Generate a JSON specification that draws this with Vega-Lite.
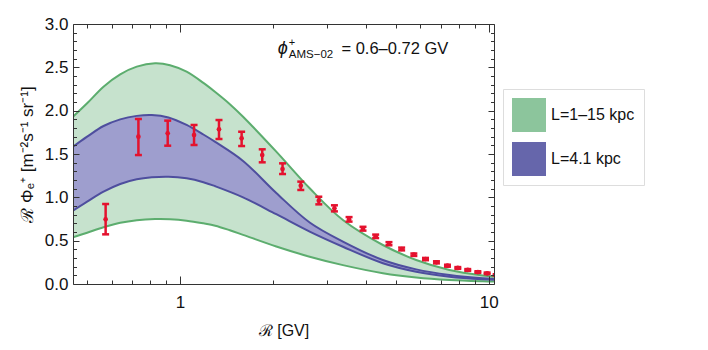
{
  "$schema": "https://vega.github.io/schema/vega-lite/v6.json",
  "width": 421,
  "height": 260,
  "autosize": {"type": "none"},
  "padding": {"left": 73, "top": 24, "right": 214, "bottom": 66},
  "config": {
    "view": {"stroke": null},
    "axis": {"grid": false},
    "font": "Liberation Sans"
  },
  "datasets": {
    "green": [
      {"x": 0.45, "lo": 0.538, "hi": 1.93},
      {"x": 0.5, "lo": 0.592, "hi": 2.085},
      {"x": 0.565, "lo": 0.654, "hi": 2.277},
      {"x": 0.64, "lo": 0.706, "hi": 2.419},
      {"x": 0.724, "lo": 0.736, "hi": 2.508},
      {"x": 0.83, "lo": 0.749, "hi": 2.546},
      {"x": 0.928, "lo": 0.747, "hi": 2.525},
      {"x": 1.05, "lo": 0.731, "hi": 2.45},
      {"x": 1.19, "lo": 0.7, "hi": 2.32},
      {"x": 1.3, "lo": 0.673, "hi": 2.215},
      {"x": 1.45, "lo": 0.62, "hi": 2.075},
      {"x": 1.6, "lo": 0.567, "hi": 1.93},
      {"x": 2.05, "lo": 0.433, "hi": 1.527},
      {"x": 2.63, "lo": 0.315, "hi": 1.104},
      {"x": 3.37, "lo": 0.218, "hi": 0.738},
      {"x": 4.54, "lo": 0.125, "hi": 0.45},
      {"x": 5.82, "lo": 0.075, "hi": 0.277},
      {"x": 7.46, "lo": 0.046, "hi": 0.162},
      {"x": 9.56, "lo": 0.031, "hi": 0.098},
      {"x": 10.4, "lo": 0.028, "hi": 0.085}
    ],
    "blue": [
      {"x": 0.45, "lo": 0.846, "hi": 1.584},
      {"x": 0.5, "lo": 0.95, "hi": 1.7},
      {"x": 0.565, "lo": 1.065, "hi": 1.823},
      {"x": 0.64, "lo": 1.154, "hi": 1.9},
      {"x": 0.724, "lo": 1.208, "hi": 1.94},
      {"x": 0.81, "lo": 1.231, "hi": 1.95},
      {"x": 0.917, "lo": 1.238, "hi": 1.922},
      {"x": 1.05, "lo": 1.219, "hi": 1.835},
      {"x": 1.19, "lo": 1.175, "hi": 1.725},
      {"x": 1.3, "lo": 1.128, "hi": 1.64},
      {"x": 1.6, "lo": 1.0, "hi": 1.42},
      {"x": 2.05, "lo": 0.805, "hi": 1.05},
      {"x": 2.63, "lo": 0.605, "hi": 0.71},
      {"x": 3.37, "lo": 0.43, "hi": 0.49},
      {"x": 4.54, "lo": 0.24, "hi": 0.277},
      {"x": 5.82, "lo": 0.142, "hi": 0.169},
      {"x": 7.46, "lo": 0.085, "hi": 0.104},
      {"x": 9.56, "lo": 0.054, "hi": 0.065},
      {"x": 10.4, "lo": 0.048, "hi": 0.058}
    ],
    "pts": [
      {"x": 0.574, "y": 0.746, "lo": 0.573, "hi": 0.923},
      {"x": 0.733, "y": 1.7, "lo": 1.488, "hi": 1.904},
      {"x": 0.912, "y": 1.738, "lo": 1.596, "hi": 1.885},
      {"x": 1.11, "y": 1.719, "lo": 1.604, "hi": 1.835},
      {"x": 1.337, "y": 1.785, "lo": 1.673, "hi": 1.892},
      {"x": 1.583, "y": 1.681, "lo": 1.592, "hi": 1.757},
      {"x": 1.846, "y": 1.488, "lo": 1.404, "hi": 1.554},
      {"x": 2.148, "y": 1.327, "lo": 1.269, "hi": 1.392},
      {"x": 2.461, "y": 1.135, "lo": 1.085, "hi": 1.181},
      {"x": 2.815, "y": 0.961, "lo": 0.919, "hi": 1.007},
      {"x": 3.163, "y": 0.873, "lo": 0.838, "hi": 0.908},
      {"x": 3.528, "y": 0.746, "lo": 0.72, "hi": 0.772},
      {"x": 3.914, "y": 0.638, "lo": 0.616, "hi": 0.66},
      {"x": 4.302, "y": 0.55, "lo": 0.53, "hi": 0.57},
      {"x": 4.751, "y": 0.465, "lo": 0.447, "hi": 0.483},
      {"x": 5.222, "y": 0.404, "lo": 0.388, "hi": 0.42},
      {"x": 5.72, "y": 0.338, "lo": 0.324, "hi": 0.352},
      {"x": 6.24, "y": 0.288, "lo": 0.275, "hi": 0.301},
      {"x": 6.77, "y": 0.25, "lo": 0.238, "hi": 0.262},
      {"x": 7.35, "y": 0.211, "lo": 0.2, "hi": 0.222},
      {"x": 7.94, "y": 0.185, "lo": 0.175, "hi": 0.195},
      {"x": 8.55, "y": 0.162, "lo": 0.152, "hi": 0.172},
      {"x": 9.22, "y": 0.138, "lo": 0.129, "hi": 0.147},
      {"x": 9.88, "y": 0.123, "lo": 0.114, "hi": 0.132},
      {"x": 10.57, "y": 0.104, "lo": 0.096, "hi": 0.112}
    ],
    "legend": [
      {"band": "L=1–15 kpc"},
      {"band": "L=4.1 kpc"}
    ]
  },
  "resolve": {
    "scale": {"x": "shared", "y": "shared"},
    "axis": {"x": "independent", "y": "independent"}
  },
  "layer": [
    {
      "data": {"name": "green"},
      "mark": {"type": "area", "fill": "#C6E2CD", "interpolate": "catmull-rom", "clip": true},
      "encoding": {
        "x": {"field": "x", "type": "quantitative", "scale": {"type": "log", "domain": [0.45, 10.4], "nice": false},
          "axis": {"orient": "bottom", "values": [1, 10], "ticks": false, "format": "~g", "labelFontSize": 17, "labelColor": "#111", "labelPadding": 10, "labelFlush": false,
            "title": "ℛ [GV]", "titleFontSize": 16, "titleFontWeight": "normal", "titleColor": "#111", "titlePadding": 12, "domain": true, "domainColor": "#333", "zindex": 1}},
        "y": {"field": "lo", "type": "quantitative", "scale": {"domain": [0, 3], "nice": false, "zero": false},
          "axis": {"orient": "left", "values": [0, 0.5, 1, 1.5, 2, 2.5, 3], "ticks": false, "format": ".1f", "labelFontSize": 17, "labelColor": "#111", "labelPadding": 5, "labelFlush": false,
            "title": "ℛ Φₑ⁺ [m⁻²s⁻¹ sr⁻¹]", "titleFontSize": 17, "titleFontWeight": "normal", "titleColor": "#111", "titlePadding": 8, "domain": true, "domainColor": "#333", "zindex": 1}},
        "y2": {"field": "hi"}
      }
    },
    {
      "data": {"name": "blue"},
      "mark": {"type": "area", "fill": "#9E9ECE", "interpolate": "catmull-rom", "clip": true},
      "encoding": {
        "x": {"field": "x", "type": "quantitative", "scale": {"type": "log", "domain": [0.45, 10.4], "nice": false},
          "axis": {"orient": "bottom", "values": [1, 10], "labels": false, "tickSize": -8, "tickColor": "#333", "domain": false, "title": null, "zindex": 1}},
        "y": {"field": "lo", "type": "quantitative", "scale": {"domain": [0, 3], "nice": false, "zero": false},
          "axis": {"orient": "left", "values": [0, 0.5, 1, 1.5, 2, 2.5, 3], "labels": false, "tickSize": -6, "tickColor": "#333", "domain": false, "title": null, "zindex": 1}},
        "y2": {"field": "hi"}
      }
    },
    {
      "data": {"name": "green"},
      "mark": {"type": "line", "stroke": "#5CAD6E", "strokeWidth": 2, "interpolate": "catmull-rom", "clip": true},
      "encoding": {
        "x": {"field": "x", "type": "quantitative", "scale": {"type": "log", "domain": [0.45, 10.4], "nice": false},
          "axis": {"orient": "bottom", "values": [0.5, 0.6, 0.7, 0.8, 0.9, 2, 3, 4, 5, 6, 7, 8, 9], "labels": false, "tickSize": -4, "tickColor": "#333", "domain": false, "title": null, "zindex": 1}},
        "y": {"field": "lo", "type": "quantitative", "scale": {"domain": [0, 3], "nice": false, "zero": false},
          "axis": {"orient": "left", "values": [0.1, 0.2, 0.3, 0.4, 0.6, 0.7, 0.8, 0.9, 1.1, 1.2, 1.3, 1.4, 1.6, 1.7, 1.8, 1.9, 2.1, 2.2, 2.3, 2.4, 2.6, 2.7, 2.8, 2.9], "labels": false, "tickSize": -3.5, "tickColor": "#333", "domain": false, "title": null, "zindex": 1}}
      }
    },
    {
      "data": {"name": "green"},
      "mark": {"type": "line", "stroke": "#5CAD6E", "strokeWidth": 2, "interpolate": "catmull-rom", "clip": true},
      "encoding": {
        "x": {"field": "x", "type": "quantitative", "scale": {"type": "log", "domain": [0.45, 10.4], "nice": false},
          "axis": {"orient": "top", "values": [1, 10], "labels": false, "tickSize": -8, "tickColor": "#333", "domain": true, "domainColor": "#333", "title": null, "zindex": 1}},
        "y": {"field": "hi", "type": "quantitative", "scale": {"domain": [0, 3], "nice": false, "zero": false},
          "axis": {"orient": "right", "values": [0, 0.5, 1, 1.5, 2, 2.5, 3], "labels": false, "tickSize": -6, "tickColor": "#333", "domain": true, "domainColor": "#333", "title": null, "zindex": 1}}
      }
    },
    {
      "data": {"name": "blue"},
      "mark": {"type": "line", "stroke": "#4E4E9E", "strokeWidth": 2, "interpolate": "catmull-rom", "clip": true},
      "encoding": {
        "x": {"field": "x", "type": "quantitative", "scale": {"type": "log", "domain": [0.45, 10.4], "nice": false},
          "axis": {"orient": "top", "values": [0.5, 0.6, 0.7, 0.8, 0.9, 2, 3, 4, 5, 6, 7, 8, 9], "labels": false, "tickSize": -4, "tickColor": "#333", "domain": false, "title": null, "zindex": 1}},
        "y": {"field": "lo", "type": "quantitative", "scale": {"domain": [0, 3], "nice": false, "zero": false},
          "axis": {"orient": "right", "values": [0.1, 0.2, 0.3, 0.4, 0.6, 0.7, 0.8, 0.9, 1.1, 1.2, 1.3, 1.4, 1.6, 1.7, 1.8, 1.9, 2.1, 2.2, 2.3, 2.4, 2.6, 2.7, 2.8, 2.9], "labels": false, "tickSize": -3.5, "tickColor": "#333", "domain": false, "title": null, "zindex": 1}}
      }
    },
    {
      "data": {"name": "blue"},
      "mark": {"type": "line", "stroke": "#4E4E9E", "strokeWidth": 2, "interpolate": "catmull-rom", "clip": true},
      "encoding": {
        "x": {"field": "x", "type": "quantitative", "scale": {"type": "log", "domain": [0.45, 10.4], "nice": false}, "axis": null},
        "y": {"field": "hi", "type": "quantitative", "scale": {"domain": [0, 3], "nice": false, "zero": false}, "axis": null}
      }
    },
    {
      "data": {"name": "pts"},
      "mark": {"type": "rule", "stroke": "#E4122E", "strokeWidth": 2.5, "clip": true},
      "encoding": {
        "x": {"field": "x", "type": "quantitative", "axis": null},
        "y": {"field": "lo", "type": "quantitative", "axis": null},
        "y2": {"field": "hi"}
      }
    },
    {
      "data": {"name": "pts"},
      "mark": {"type": "tick", "orient": "horizontal", "color": "#E4122E", "size": 7, "thickness": 2.5, "opacity": 1, "clip": true},
      "encoding": {
        "x": {"field": "x", "type": "quantitative", "axis": null},
        "y": {"field": "lo", "type": "quantitative", "axis": null}
      }
    },
    {
      "data": {"name": "pts"},
      "mark": {"type": "tick", "orient": "horizontal", "color": "#E4122E", "size": 7, "thickness": 2.5, "opacity": 1, "clip": true},
      "encoding": {
        "x": {"field": "x", "type": "quantitative", "axis": null},
        "y": {"field": "hi", "type": "quantitative", "axis": null}
      }
    },
    {
      "data": {"name": "pts"},
      "mark": {"type": "circle", "color": "#E4122E", "size": 22, "opacity": 1, "clip": true},
      "encoding": {
        "x": {"field": "x", "type": "quantitative", "axis": null},
        "y": {"field": "y", "type": "quantitative", "axis": null}
      }
    },
    {
      "data": {"values": [{}]},
      "mark": {"type": "text", "text": "ϕ", "fontSize": 18, "fontStyle": "italic", "align": "left", "baseline": "alphabetic", "color": "#111"},
      "encoding": {
        "x": {"datum": 2.074, "type": "quantitative", "axis": null},
        "y": {"datum": 2.654, "type": "quantitative", "axis": null}
      }
    },
    {
      "data": {"values": [{}]},
      "mark": {"type": "text", "text": "+", "fontSize": 11, "align": "left", "baseline": "alphabetic", "color": "#111"},
      "encoding": {
        "x": {"datum": 2.25, "type": "quantitative", "axis": null},
        "y": {"datum": 2.75, "type": "quantitative", "axis": null}
      }
    },
    {
      "data": {"values": [{}]},
      "mark": {"type": "text", "text": "AMS−02", "fontSize": 11.5, "align": "left", "baseline": "alphabetic", "color": "#111"},
      "encoding": {
        "x": {"datum": 2.25, "type": "quantitative", "axis": null},
        "y": {"datum": 2.604, "type": "quantitative", "axis": null}
      }
    },
    {
      "data": {"values": [{}]},
      "mark": {"type": "text", "text": "= 0.6–0.72 GV", "fontSize": 16.5, "align": "left", "baseline": "alphabetic", "color": "#111"},
      "encoding": {
        "x": {"datum": 3.333, "type": "quantitative", "axis": null},
        "y": {"datum": 2.654, "type": "quantitative", "axis": null}
      }
    },
    {
      "data": {"name": "legend"},
      "mark": {"type": "square", "filled": true, "opacity": 0},
      "encoding": {
        "fill": {"field": "band", "type": "nominal",
          "scale": {"domain": ["L=1–15 kpc", "L=4.1 kpc"], "range": ["#8CC59C", "#6666AB"]},
          "legend": {"orient": "none", "legendX": 430, "legendY": 65, "title": null, "symbolType": "square", "symbolSize": 1156, "symbolOpacity": 1, "symbolStrokeWidth": 0,
            "labelFontSize": 16, "labelColor": "#111", "labelOffset": 5, "rowPadding": 10, "padding": 9, "strokeColor": "#DDDDDD", "fillColor": "white",
            "labelExpr": "datum.label + '\u00a0\u00a0\u00a0\u00a0\u00a0\u00a0\u00a0\u00a0\u00a0\u00a0\u00a0'"}
        }
      }
    }
  ]
}
